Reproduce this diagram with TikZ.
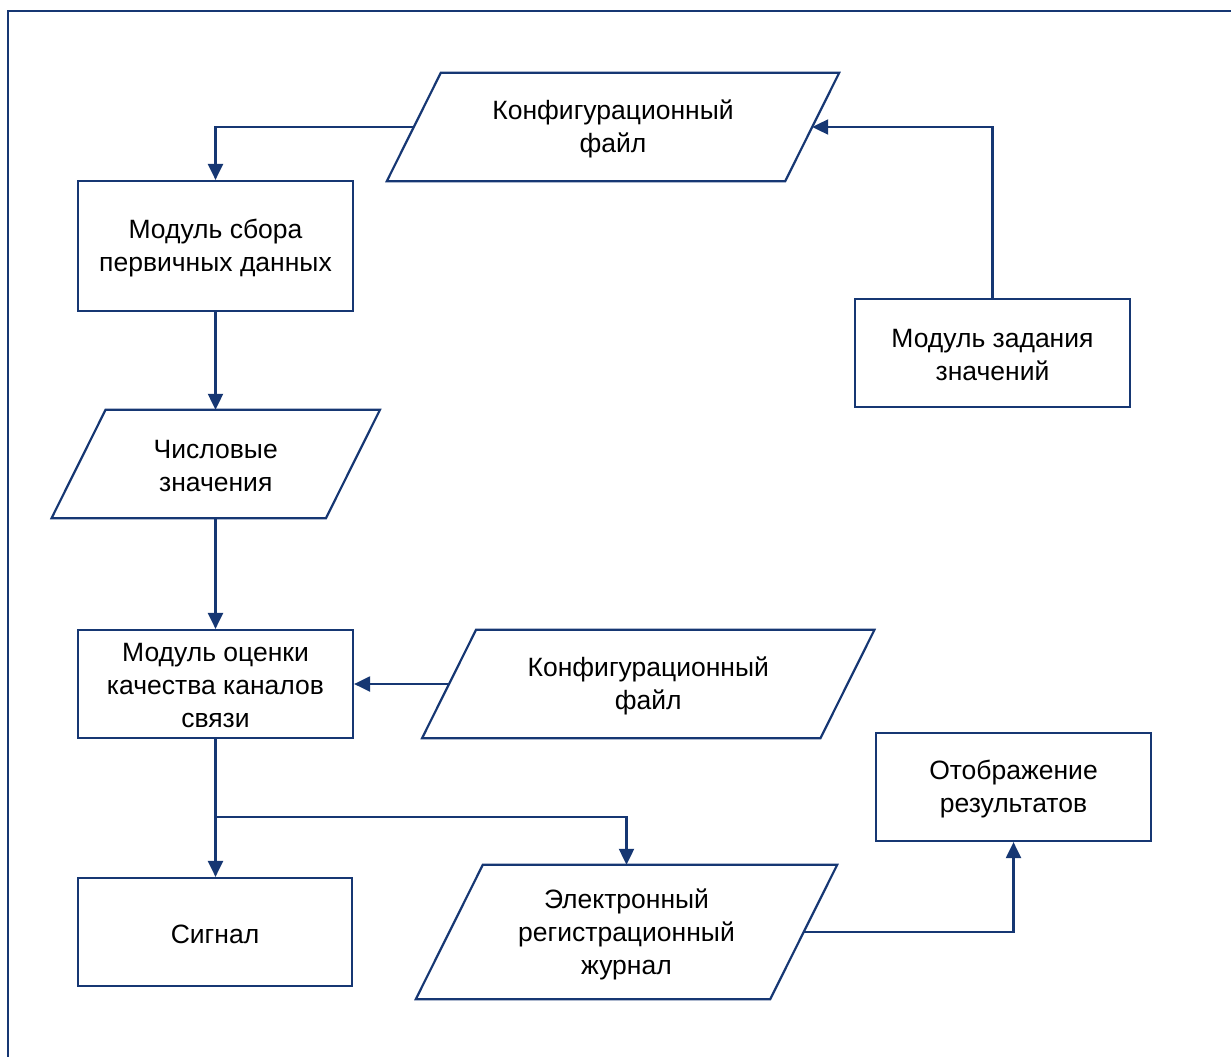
\documentclass[tikz,border=0pt]{standalone}
\usepackage{fontspec}
\setmainfont{Liberation Sans}
\usetikzlibrary{arrows.meta}
\definecolor{navy}{RGB}{22,55,115}
\begin{document}
\begin{tikzpicture}[x=1pt,y=-1pt,
  every node/.style={font=\fontsize{26.5}{33}\selectfont, align=center, inner sep=0pt, text=black},
  box/.style={draw=navy, line width=2.2pt, minimum width=275pt, minimum height=108pt},
  pbox/.style={minimum height=108pt},
  pshape/.style={draw=navy, line width=2.2pt},
  conn/.style={draw=navy, line width=2.2pt, -{Triangle[length=16pt,width=15pt]}},
  txt/.style={yshift=-2pt},
  frame/.style={draw=navy, line width=2.4pt}]
\useasboundingbox (0,0) rectangle (1231,1057);
\draw[frame] (8,1060) -- (8,11) -- (1234,11);
% rectangles
\node[box, minimum height=130pt] (m1) at (215.5,246) {};
\node[box] (mz) at (992.5,353) {};
\node[box] (mo) at (215.5,684) {};
\node[box] (res) at (1013.5,787) {};
\node[box, minimum width=274pt] (sig) at (215,932) {};
% parallelograms
\node[pbox, minimum width=398pt] (k1) at (613,127) {};
\node[pbox, minimum width=274pt] (ch) at (215.75,464) {};
\node[pbox, minimum width=398pt] (k2) at (648.25,684) {};
\node[minimum height=134pt, minimum width=354pt] (ej) at (626.5,932) {};
\foreach \n/\s in {k1/27,ch/27,k2/27,ej/33.5}{
  \draw[pshape] ([xshift=\s pt]\n.north west) -- ([xshift=\s pt]\n.north east)
    -- ([xshift=-\s pt]\n.south east) -- ([xshift=-\s pt]\n.south west) -- cycle;
}
% texts
\node[txt] (tm1) at (m1) {Модуль сбора\\первичных данных};
\node[txt] (tmz) at (mz) {Модуль задания\\значений};
\node[txt] (tmo) at (mo) {Модуль оценки\\качества каналов\\связи};
\node[txt] (tres) at (res) {Отображение\\результатов};
\node[txt] (tsig) at (sig) {Сигнал};
\node[txt] (tk1) at (k1) {Конфигурационный\\файл};
\node[txt] (tch) at (ch) {Числовые\\значения};
\node[txt] (tk2) at (k2) {Конфигурационный\\файл};
\node[txt] (tej) at (ej) {Электронный\\регистрационный\\журнал};
\coordinate (br) at (215.5,817);
% connectors
\draw[conn] (k1.west) -| (m1.north);
\draw[conn] (mz.north) |- (k1.east);
\draw[conn] (m1.south) -- (ch.north -| m1.south);
\draw[conn] (ch.south -| mo.north) -- (mo.north);
\draw[conn] (k2.west) -- (mo.east);
\draw[conn] (mo.south) -- (sig.north -| mo.south);
\draw[conn] (br) -| (ej.north);
\draw[conn] (ej.east) -| (res.south);
\end{tikzpicture}
\end{document}
